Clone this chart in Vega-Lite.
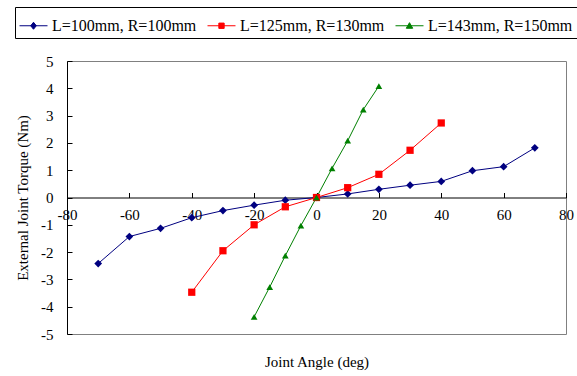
{
  "$schema": "https://vega.github.io/schema/vega-lite/v6.json",
  "width": 499,
  "height": 273,
  "autosize": {"type": "none"},
  "padding": {"left": 67, "top": 61, "right": 11, "bottom": 42},
  "background": "white",
  "config": {
    "view": {"stroke": "#808080", "strokeWidth": 1},
    "font": "Liberation Serif",
    "axis": {
      "labelFont": "Liberation Serif",
      "titleFont": "Liberation Serif",
      "labelFontSize": 15,
      "titleFontSize": 15,
      "titleFontWeight": "normal",
      "labelColor": "black",
      "titleColor": "black",
      "domainColor": "black",
      "tickColor": "black",
      "grid": false
    }
  },
  "data": {
    "values": [
      {"series": "L=100mm, R=100mm", "angle": -70, "torque": -2.42},
      {"series": "L=100mm, R=100mm", "angle": -60, "torque": -1.43},
      {"series": "L=100mm, R=100mm", "angle": -50, "torque": -1.13},
      {"series": "L=100mm, R=100mm", "angle": -40, "torque": -0.74},
      {"series": "L=100mm, R=100mm", "angle": -30, "torque": -0.48},
      {"series": "L=100mm, R=100mm", "angle": -20, "torque": -0.28},
      {"series": "L=100mm, R=100mm", "angle": -10, "torque": -0.1},
      {"series": "L=100mm, R=100mm", "angle": 0, "torque": 0},
      {"series": "L=100mm, R=100mm", "angle": 10, "torque": 0.13},
      {"series": "L=100mm, R=100mm", "angle": 20, "torque": 0.3},
      {"series": "L=100mm, R=100mm", "angle": 30, "torque": 0.45},
      {"series": "L=100mm, R=100mm", "angle": 40, "torque": 0.59},
      {"series": "L=100mm, R=100mm", "angle": 50, "torque": 0.98},
      {"series": "L=100mm, R=100mm", "angle": 60, "torque": 1.13},
      {"series": "L=100mm, R=100mm", "angle": 70, "torque": 1.82},
      {"series": "L=125mm, R=130mm", "angle": -40, "torque": -3.47},
      {"series": "L=125mm, R=130mm", "angle": -30, "torque": -1.95},
      {"series": "L=125mm, R=130mm", "angle": -20, "torque": -1.0},
      {"series": "L=125mm, R=130mm", "angle": -10, "torque": -0.34},
      {"series": "L=125mm, R=130mm", "angle": 0, "torque": 0},
      {"series": "L=125mm, R=130mm", "angle": 10, "torque": 0.36},
      {"series": "L=125mm, R=130mm", "angle": 20, "torque": 0.85},
      {"series": "L=125mm, R=130mm", "angle": 30, "torque": 1.73},
      {"series": "L=125mm, R=130mm", "angle": 40, "torque": 2.73},
      {"series": "L=143mm, R=150mm", "angle": -20, "torque": -4.37},
      {"series": "L=143mm, R=150mm", "angle": -15, "torque": -3.28},
      {"series": "L=143mm, R=150mm", "angle": -10, "torque": -2.13},
      {"series": "L=143mm, R=150mm", "angle": -5, "torque": -1.03},
      {"series": "L=143mm, R=150mm", "angle": 0, "torque": 0},
      {"series": "L=143mm, R=150mm", "angle": 5, "torque": 1.07},
      {"series": "L=143mm, R=150mm", "angle": 10, "torque": 2.08},
      {"series": "L=143mm, R=150mm", "angle": 15, "torque": 3.22},
      {"series": "L=143mm, R=150mm", "angle": 20, "torque": 4.08}
    ]
  },
  "encoding": {
    "x": {
      "field": "angle",
      "type": "quantitative",
      "scale": {"domain": [-80, 80], "nice": false, "zero": false},
      "axis": {
        "title": "Joint Angle (deg)",
        "values": [-80, -60, -40, -20, 0, 20, 40, 60, 80],
        "labelExpr": "replace(datum.label, '\u2212', '-')",
        "offset": -136.5,
        "tickSize": -5,
        "labelPadding": 15,
        "labelFlush": false,
        "titleY": 169,
        "titleBaseline": "alphabetic"
      }
    },
    "y": {
      "field": "torque",
      "type": "quantitative",
      "scale": {"domain": [-5, 5], "nice": false},
      "axis": {
        "title": "External Joint Torque (Nm)",
        "values": [-5, -4, -3, -2, -1, 0, 1, 2, 3, 4, 5],
        "labelExpr": "replace(datum.label, '\u2212', '-')",
        "tickSize": -5,
        "labelPadding": 19,
        "labelFlush": false,
        "titleX": -40,
        "titleY": 136.5,
        "titleBaseline": "alphabetic",
        "titleAngle": -90,
        "titleAlign": "center"
      }
    }
  },
  "layer": [
    {
      "mark": {"type": "line", "strokeWidth": 1},
      "encoding": {
        "color": {
          "field": "series",
          "type": "nominal",
          "scale": {
            "domain": ["L=100mm, R=100mm", "L=125mm, R=130mm", "L=143mm, R=150mm"],
            "range": ["#000080", "#FF0000", "#008000"]
          },
          "legend": null
        }
      }
    },
    {
      "mark": {"type": "point", "filled": true, "opacity": 1},
      "encoding": {
        "color": {"field": "series", "type": "nominal", "legend": null},
        "shape": {
          "field": "series",
          "type": "nominal",
          "scale": {
            "domain": ["L=100mm, R=100mm", "L=125mm, R=130mm", "L=143mm, R=150mm"],
            "range": ["diamond", "square", "triangle-up"]
          },
          "legend": null
        },
        "size": {
          "field": "series",
          "type": "nominal",
          "scale": {
            "domain": ["L=100mm, R=100mm", "L=125mm, R=130mm", "L=143mm, R=150mm"],
            "range": [60, 45, 75]
          },
          "legend": null
        }
      }
    },
    {
      "mark": {"type": "point", "filled": false, "opacity": 0, "strokeWidth": 1},
      "encoding": {
        "color": {
          "field": "series",
          "type": "nominal",
          "legend": {
            "title": null,
            "orient": "none",
            "direction": "horizontal",
            "legendX": -52,
            "legendY": -54,
            "strokeColor": "black",
            "fillColor": "white",
            "padding": 4,
            "labelFont": "Liberation Serif",
            "labelFontSize": 16,
            "labelColor": "black",
            "labelLimit": 300,
            "labelOffset": 4,
            "columnPadding": 8,
            "symbolSize": 784,
            "symbolOpacity": 1,
            "symbolStrokeWidth": 1
          }
        },
        "fill": {
          "field": "series",
          "type": "nominal",
          "scale": {
            "domain": ["L=100mm, R=100mm", "L=125mm, R=130mm", "L=143mm, R=150mm"],
            "range": ["#000080", "#FF0000", "#008000"]
          },
          "legend": {"title": null}
        },
        "shape": {
          "field": "series",
          "type": "nominal",
          "scale": {
            "domain": ["L=100mm, R=100mm", "L=125mm, R=130mm", "L=143mm, R=150mm"],
            "range": [
              "M-1,0H1M0,-0.25L0.2,0L0,0.25L-0.2,0Z",
              "M-1,0H1M-0.19,-0.19H0.19V0.19H-0.19Z",
              "M-1,0H1M0,-0.22L0.23,0.18L-0.23,0.18Z"
            ]
          },
          "legend": {"title": null}
        }
      }
    }
  ],
  "resolve": {
    "scale": {"shape": "independent", "size": "independent"},
    "legend": {"color": "independent", "shape": "independent", "fill": "independent"}
  }
}
